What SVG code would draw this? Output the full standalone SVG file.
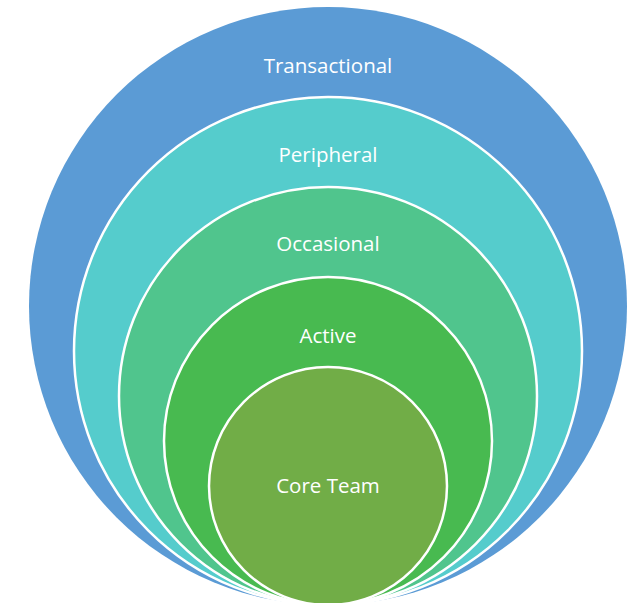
<svg xmlns="http://www.w3.org/2000/svg" width="636" height="603" viewBox="0 0 636 603">
<style>
.ring{stroke:#FFFFFF;stroke-width:2.5}
.lbl{font-family:"Open Sans","Liberation Sans",sans-serif;font-size:20.5px;fill:#FFFFFF;text-anchor:middle}
</style>
<rect width="636" height="603" fill="#FFFFFF"/>
<g id="transactional">
<circle cx="328" cy="306" r="299" fill="#5B9BD5"/>
<text class="lbl" x="328" y="73">Transactional</text>
</g>
<g id="peripheral">
<circle class="ring" cx="328" cy="351" r="254" fill="#55CCCC"/>
<text class="lbl" x="328" y="162">Peripheral</text>
</g>
<g id="occasional">
<circle class="ring" cx="328" cy="396" r="209" fill="#50C58D"/>
<text class="lbl" x="328" y="251">Occasional</text>
</g>
<g id="active">
<circle class="ring" cx="328" cy="441" r="164" fill="#48BA50"/>
<text class="lbl" x="328" y="343">Active</text>
</g>
<g id="core-team">
<circle class="ring" cx="328" cy="486" r="119" fill="#71AD47"/>
<text class="lbl" x="328" y="493">Core Team</text>
</g>
<g id="connectors"></g>
</svg>
